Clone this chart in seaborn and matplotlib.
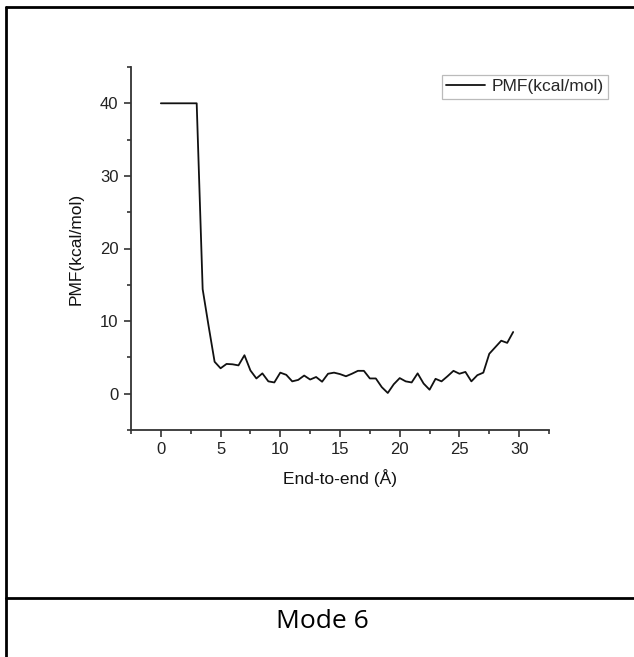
import numpy as np
import pandas as pd
import seaborn as sns
import matplotlib.pyplot as plt
from matplotlib.lines import Line2D
from matplotlib.ticker import MultipleLocator

# End-to-end distance (Å) and potential of mean force (kcal/mol)
distance = [0.0, 0.5, 1.0, 1.5, 2.0, 2.5, 3.0, 3.5, 4.0, 4.5,
            5.0, 5.5, 6.0, 6.5, 7.0, 7.5, 8.0, 8.5, 9.0, 9.5,
            10.0, 10.5, 11.0, 11.5, 12.0, 12.5, 13.0, 13.5, 14.0, 14.5,
            15.0, 15.5, 16.0, 16.5, 17.0, 17.5, 18.0, 18.5, 19.0, 19.5,
            20.0, 20.5, 21.0, 21.5, 22.0, 22.5, 23.0, 23.5, 24.0, 24.5,
            25.0, 25.5, 26.0, 26.5, 27.0, 27.5, 28.0, 28.5, 29.0, 29.5]
pmf = [40.0, 40.0, 40.0, 40.0, 40.0, 40.0, 40.0, 14.4, 9.3, 4.4,
       3.5, 4.1, 4.05, 3.9, 5.3, 3.2, 2.1, 2.8, 1.7, 1.55,
       2.9, 2.6, 1.7, 1.9, 2.5, 1.95, 2.3, 1.65, 2.75, 2.9,
       2.7, 2.4, 2.75, 3.15, 3.15, 2.1, 2.1, 0.9, 0.1, 1.3,
       2.15, 1.7, 1.55, 2.8, 1.4, 0.55, 2.05, 1.7, 2.4, 3.15,
       2.75, 3.0, 1.7, 2.55, 2.9, 5.5, 6.4, 7.3, 7.0, 8.5]
series_label = "PMF(kcal/mol)"
x_label = "End-to-end (Å)"
y_label = "PMF(kcal/mol)"
caption = "Mode 6"

df = pd.DataFrame({"distance": distance, "pmf": pmf})

sns.set_style("ticks")
plt.rcParams["font.family"] = ["Liberation Sans", "DejaVu Sans"]

W, H = 634, 657
fig = plt.figure(figsize=(W / 100, H / 100), dpi=100)
fig.patch.set_facecolor("white")

ax = fig.add_axes([131 / W, 1 - 430 / H, (549 - 131) / W, (430 - 67) / H])
sns.lineplot(data=df, x="distance", y="pmf", ax=ax, color="#111111",
             linewidth=1.3, label=series_label)

ax.set_xlim(-2.5, 32.5)
ax.set_ylim(-5, 45)
ax.xaxis.set_major_locator(MultipleLocator(5))
ax.xaxis.set_minor_locator(MultipleLocator(2.5))
ax.yaxis.set_major_locator(MultipleLocator(10))
ax.yaxis.set_minor_locator(MultipleLocator(5))
ax.tick_params(which="major", direction="out", length=5, width=1.2,
               color="#333333", labelsize=12, labelcolor="#222222", pad=4)
ax.tick_params(which="minor", direction="out", length=3, width=1.2,
               color="#333333")
sns.despine(ax=ax)
for s in ("left", "bottom"):
    ax.spines[s].set_linewidth(1.3)
    ax.spines[s].set_color("#333333")

ax.set_xlabel(x_label, fontsize=12.5, color="#111111", labelpad=8)
ax.set_ylabel(y_label, fontsize=12.5, color="#111111", labelpad=12)

leg = ax.legend(loc="upper right", bbox_to_anchor=(608 / W, 1 - 75 / H),
                bbox_transform=fig.transFigure, borderaxespad=0,
                fancybox=False, frameon=True, fontsize=12.5,
                handlelength=2.2, handletextpad=0.4, borderpad=0.25)
leg.get_frame().set_edgecolor("#aaaaaa")
leg.get_frame().set_linewidth(0.9)

# Table-style frame around the figure with the caption cell below
frame_kw = dict(color="black", linewidth=2, transform=fig.transFigure)
fig.add_artist(Line2D([6 / W, 1.0], [1 - 7 / H, 1 - 7 / H], **frame_kw))
fig.add_artist(Line2D([6 / W, 6 / W], [1 - 7 / H, 0.0], **frame_kw))
fig.add_artist(Line2D([6 / W, 1.0], [1 - 598 / H, 1 - 598 / H], **frame_kw))
fig.text(322 / W, 1 - 622 / H, caption, ha="center", va="center",
         fontsize=19, family=["Open Sans", "DejaVu Sans"], color="black")

fig.savefig("out.png", dpi=100)
